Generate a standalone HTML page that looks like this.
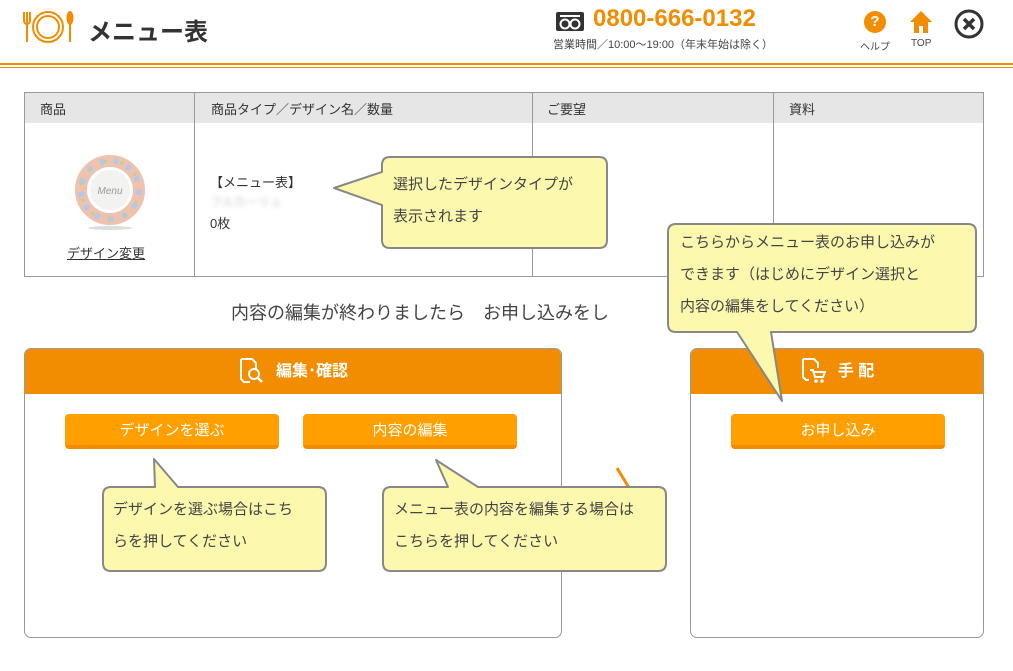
<!DOCTYPE html>
<html><head><meta charset="utf-8"><style>
*{margin:0;padding:0;box-sizing:border-box}
body{width:1013px;height:671px;background:#fff;position:relative;overflow:hidden;font-family:"Liberation Sans","Noto Sans CJK JP",sans-serif;color:#333}
.a{position:absolute;white-space:nowrap}
.btn{position:absolute;height:35px;background:#ff9f00;border-bottom:4px solid #f28c00;border-radius:4px;color:#fff;font-size:15px;text-align:center;line-height:33px}
.panel{position:absolute;border:1px solid #999;border-radius:7px;overflow:hidden;background:#fff}
.ph{height:45px;background:#f28c00;color:#fff;font-size:16px;font-weight:bold;text-align:center;line-height:45px}
.ph svg{vertical-align:middle;margin-right:12px;position:relative;top:-2px}
.ct{position:absolute;font-size:15px;color:#444;line-height:32px;white-space:nowrap}
</style></head><body>
<svg class="a" style="left:22px;top:8px" width="56" height="38" viewBox="0 0 56 38">
<g stroke="#f28c00" fill="none" stroke-width="2"><line x1="5" y1="4" x2="5" y2="34"/><path d="M2 4v9a3 3 0 0 0 6 0V4"/><circle cx="26" cy="19" r="15"/><circle cx="26" cy="19" r="11"/></g>
<ellipse cx="48" cy="10" rx="3.5" ry="7" fill="#f28c00"/><rect x="47" y="14" width="2" height="20" fill="#f28c00"/>
</svg>
<div class="a" style="left:88px;top:12px;font-size:24px;font-weight:bold;color:#333">メニュー表</div>
<svg class="a" style="left:556px;top:12px" width="28" height="19"><rect width="28" height="19" rx="2" fill="#333"/><circle cx="9" cy="12" r="4.5" fill="none" stroke="#fff" stroke-width="2"/><circle cx="19" cy="12" r="4.5" fill="none" stroke="#fff" stroke-width="2"/><rect x="4" y="3" width="20" height="2" fill="#fff"/></svg>
<div class="a" style="left:593px;top:5px;font-size:24px;font-weight:bold;color:#f28c00">0800-666-0132</div>
<div class="a" style="left:553px;top:36px;font-size:11px;color:#444">営業時間／10:00～19:00（年末年始は除く）</div>
<div class="a" style="left:864px;top:11px;width:22px;height:22px;border-radius:50%;background:#f28c00;color:#fff;font-weight:bold;font-size:15px;text-align:center;line-height:22px">?</div>
<div class="a" style="left:860px;top:38px;font-size:10px;color:#444">ヘルプ</div>
<svg class="a" style="left:909px;top:10px" width="24" height="24"><path d="M12 1L1 12h4v11h5v-7h4v7h5V12h4z" fill="#f28c00"/></svg>
<div class="a" style="left:911px;top:38px;font-size:10px;color:#444">TOP</div>
<svg class="a" style="left:954px;top:9px" width="30" height="30"><circle cx="15" cy="15" r="13" fill="none" stroke="#333" stroke-width="3"/><path d="M10 10l10 10M20 10l-10 10" stroke="#333" stroke-width="3.5"/></svg>
<div class="a" style="left:0;top:63px;width:1013px;height:2px;background:#f28c00"></div>
<div class="a" style="left:0;top:67px;width:1013px;height:1px;background:#f28c00"></div>
<div class="a" style="left:24px;top:92px;width:960px;height:185px;border:1px solid #999"></div>
<div class="a" style="left:25px;top:93px;width:958px;height:30px;background:#e6e6e6"></div>
<div class="a" style="left:194px;top:92px;width:1px;height:185px;background:#999"></div>
<div class="a" style="left:532px;top:92px;width:1px;height:185px;background:#999"></div>
<div class="a" style="left:773px;top:92px;width:1px;height:185px;background:#999"></div>
<div class="a" style="left:40px;top:99px;font-size:13px">商品</div>
<div class="a" style="left:211px;top:99px;font-size:13px">商品タイプ／デザイン名／数量</div>
<div class="a" style="left:547px;top:99px;font-size:13px">ご要望</div>
<div class="a" style="left:789px;top:99px;font-size:13px">資料</div>
<svg class="a" style="left:75px;top:152px" width="70" height="80"><circle cx="35" cy="38" r="29" fill="none" stroke="#efc2ad" stroke-width="12"/><circle cx="35" cy="38" r="29" fill="none" stroke="#b9c7e6" stroke-width="6" stroke-dasharray="5 9"/><circle cx="35" cy="38" r="29" fill="none" stroke="#b8d0a0" stroke-width="3" stroke-dasharray="3 14" stroke-dashoffset="6"/><circle cx="35" cy="38" r="20" fill="#f2f2f0"/><text x="35" y="42" font-size="10" text-anchor="middle" fill="#999" font-style="italic">Menu</text><ellipse cx="35" cy="76" rx="22" ry="2" fill="#ddd"/></svg>
<div class="a" style="left:67px;top:243px;font-size:13px;text-decoration:underline">デザイン変更</div>
<div class="a" style="left:210px;top:172px;font-size:13px">【メニュー表】</div>
<div class="a" style="left:210px;top:193px;font-size:12px;color:#ccc;filter:blur(2px)">フルカーリュ</div>
<div class="a" style="left:210px;top:213px;font-size:13px">0枚</div>
<div class="a" style="left:231px;top:299px;font-size:18px;color:#444">内容の編集が終わりましたら　お申し込みをし</div>
<div class="panel" style="left:24px;top:348px;width:538px;height:290px"><div class="ph"><svg width="26" height="26" viewBox="0 0 26 26"><path d="M3 2h11l4 4v6M3 2v20l3 3h6" fill="none" stroke="#fff" stroke-width="2"/><circle cx="16" cy="17" r="5" fill="none" stroke="#fff" stroke-width="2"/><line x1="19.5" y1="20.5" x2="24" y2="25" stroke="#fff" stroke-width="2.5"/></svg>編集･確認</div></div>
<div class="panel" style="left:690px;top:348px;width:294px;height:290px"><div class="ph"><svg width="26" height="26" viewBox="0 0 26 26"><path d="M3 2h11l4 4v5M3 2v18l3 3h3" fill="none" stroke="#fff" stroke-width="2"/><path d="M10 13h3l2 7h8l2-5H14" fill="none" stroke="#fff" stroke-width="2"/><circle cx="16" cy="24" r="1.8" fill="#fff"/><circle cx="22" cy="24" r="1.8" fill="#fff"/></svg>手 配</div></div>
<div class="btn" style="left:65px;top:414px;width:214px">デザインを選ぶ</div>
<div class="btn" style="left:303px;top:414px;width:214px">内容の編集</div>
<div class="btn" style="left:731px;top:414px;width:214px">お申し込み</div>
<svg class="a" style="left:0;top:0" width="1013" height="671">
<line x1="617" y1="468" x2="631" y2="491" stroke="#f28c00" stroke-width="3"/>
<g fill="#fcf9ae" stroke="#888" stroke-width="2" stroke-linejoin="round">
<path d="M390 157H599Q607 157 607 165V240Q607 248 599 248H390Q382 248 382 240V205L334 188L382 172V165Q382 157 390 157Z"/>
<path d="M676 224H968Q976 224 976 232V324Q976 332 968 332H771L782 401L737 332H676Q668 332 668 324V232Q668 224 676 224Z"/>
<path d="M111 487H155L154 459L178 487H318Q326 487 326 495V563Q326 571 318 571H111Q103 571 103 563V495Q103 487 111 487Z"/>
<path d="M391 487H448L436 460L478 487H658Q666 487 666 495V563Q666 571 658 571H391Q383 571 383 563V495Q383 487 391 487Z"/>
</g></svg>
<div class="ct" style="left:393px;top:169px">選択したデザインタイプが<br>表示されます</div>
<div class="ct" style="left:680px;top:227px">こちらからメニュー表のお申し込みが<br>できます（はじめにデザイン選択と<br>内容の編集をしてください）</div>
<div class="ct" style="left:113px;top:494px">デザインを選ぶ場合はこち<br>らを押してください</div>
<div class="ct" style="left:394px;top:494px">メニュー表の内容を編集する場合は<br>こちらを押してください</div>
</body></html>
